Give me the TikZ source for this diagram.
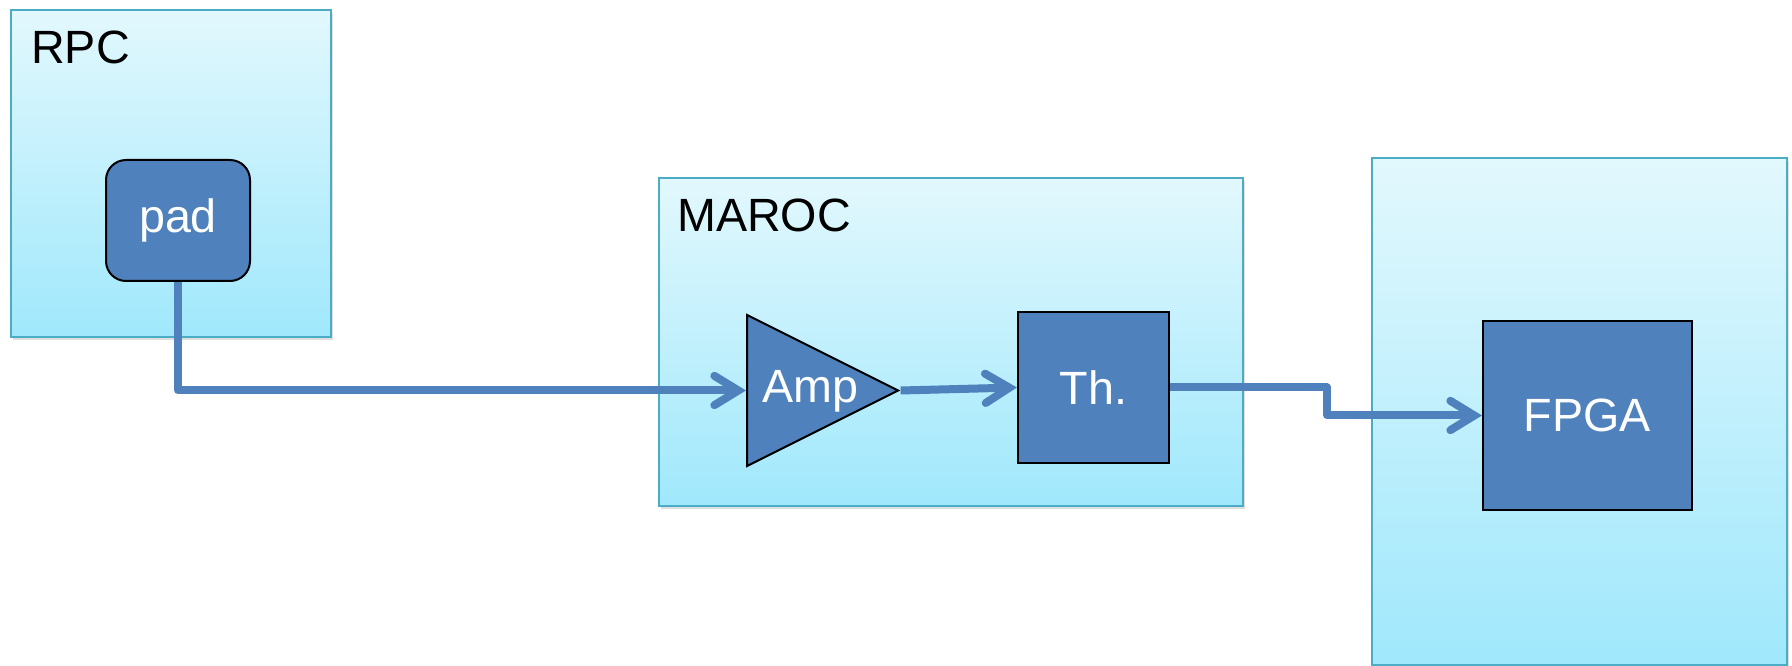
\documentclass[tikz,border=0pt]{standalone}
\usepackage{fontspec}
\setmainfont{Liberation Sans}
\usepackage{xcolor}
\usetikzlibrary{positioning}
\usetikzlibrary{arrows.meta}
\usetikzlibrary{shapes.geometric}
\usetikzlibrary{shadows}
\definecolor{chipline}{HTML}{4BACC6}
\definecolor{chiptop}{HTML}{E2F8FD}
\definecolor{chipbot}{HTML}{A0E8FC}
\definecolor{sigblue}{HTML}{4F81BD}
\tikzset{x=0.75pt,y=-0.75pt,
      every node/.style={font=\fontsize{35}{42}\selectfont},
      chip/.style={draw=chipline, line width=1.5pt, top color=chiptop,
      bottom color=chipbot, inner sep=0pt, anchor=north west,
      drop shadow={shadow xshift=1.5pt, shadow yshift=-2.5pt, opacity=0.25}},
      chiptext/.style={anchor=north west, inner sep=0pt},
      block/.style={draw=black, line width=1.5pt, fill=sigblue,
      text=white, inner sep=0pt},
      signal/.style={draw=sigblue, line width=6pt, line join=round,
      -{Straight Barb[length=18pt, width=22pt, line cap=round]}}}

\begin{document}
\begin{tikzpicture}
          \useasboundingbox (0,0) rectangle (1792,666);
          % outer boxes
          \node[chip, minimum width=240pt, minimum height=245.25pt] (rpc) at (10,9) {};
          \node[chip, minimum width=438pt, minimum height=246pt] (maroc) at (658,177) {};
          \node[chip, minimum width=311.25pt, minimum height=380.25pt] (board) at (1371,157) {};
          \node[chiptext] (rpctxt) at (31,31) {RPC};
          \node[chiptext] (maroctxt) at (677,199) {MAROC};

          % blocks
          \node[block, rounded corners=15pt, minimum width=108pt, minimum height=90.75pt] (pad) at (178,220.5) {pad};
          \node[block, isosceles triangle, isosceles triangle stretches, shape border rotate=0,
                minimum width=113.25pt, minimum height=113.25pt, anchor=west] (amp) at (746,390.5) {};
          \node[text=white] (amptxt) at (810,391) {Amp};
          \node[block, minimum width=113.25pt, minimum height=113.25pt] (th) at (1093.5,387.5) {Th.};
          \node[block, minimum width=156.75pt, minimum height=141.75pt] (fpga) at (1587.5,415.5) {FPGA};

          \draw[signal] (pad.south) |- (amp.west);
          \draw[signal] (amp.east) -- (th.west);
          \draw[signal] (th.east) -- ++(157,0) |- (fpga.west);
       \end{tikzpicture}
\end{document}
